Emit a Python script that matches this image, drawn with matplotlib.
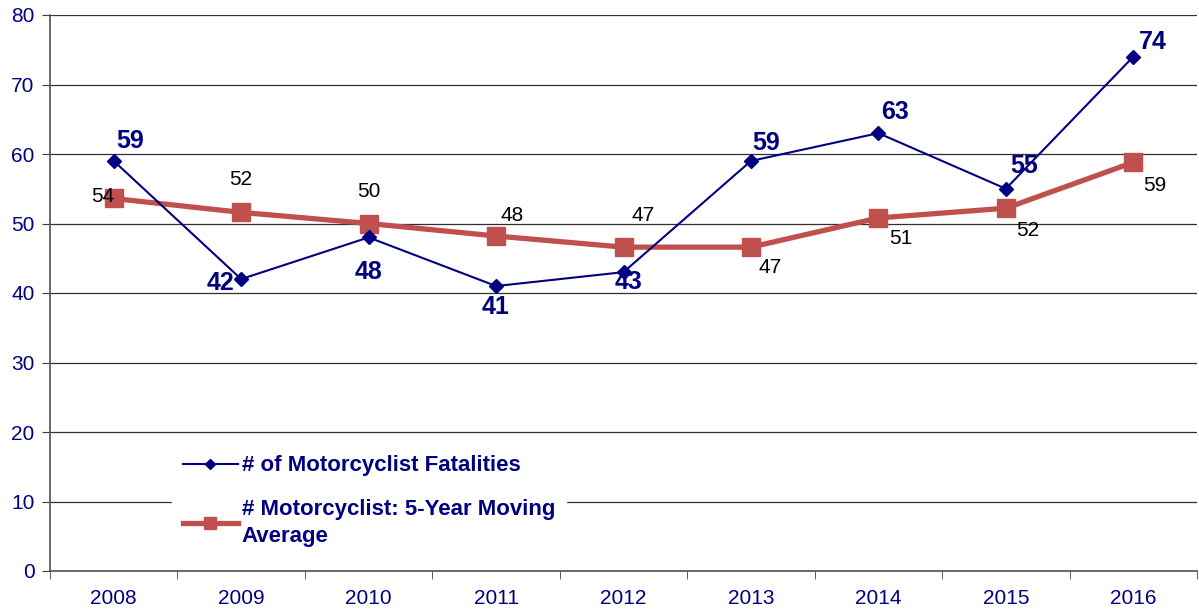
import matplotlib.pyplot as plt
import numpy as np

plt.rcParams['font.family'] = ['Liberation Sans', 'DejaVu Sans']

years = ['2008', '2009', '2010', '2011', '2012', '2013', '2014', '2015', '2016']
fatalities = [59, 42, 48, 41, 43, 59, 63, 55, 74]
moving_avg = [53.6, 51.6, 50.0, 48.2, 46.6, 46.6, 50.8, 52.2, 58.8]
fat_label = '# of Motorcyclist Fatalities'
avg_label = '# Motorcyclist: 5-Year Moving\nAverage'

navy = '#000080'
red = '#C0504D'

# label offsets in pixels (dx, dy), dy positive = up
fat_offsets = [(16, 20), (-21, -4), (0, -35), (0, -21), (5, -10),
               (15, 18), (17, 21), (18, 23), (20, 15)]
avg_offsets = [(-11, 2), (0, 33), (0, 32), (16, 21), (20, 32),
               (19, -20), (22, -21), (22, -22), (22, -23)]

fig = plt.figure(figsize=(11.99, 6.10), dpi=100)
ax = fig.add_axes([50 / 1199, 1 - 571 / 610, 1147 / 1199, 556 / 610])

x = np.arange(len(years))
ax.plot(x, moving_avg, color=red, linewidth=3.8, marker='s', markersize=13,
        label=avg_label, zorder=3)
ax.plot(x, fatalities, color=navy, linewidth=1.5, marker='D', markersize=7.5,
        label=fat_label, zorder=4)

for i, v in enumerate(fatalities):
    dx, dy = fat_offsets[i]
    ax.annotate(str(v), (x[i], v), xytext=(dx * 0.72, dy * 0.72),
                textcoords='offset points', ha='center', va='center',
                fontsize=18, fontweight='bold', color=navy, zorder=5)
for i, v in enumerate(moving_avg):
    dx, dy = avg_offsets[i]
    ax.annotate(str(int(round(v))), (x[i], v), xytext=(dx * 0.72, dy * 0.72),
                textcoords='offset points', ha='center', va='center',
                fontsize=15, color='black', zorder=5)

ax.set_xlim(-0.5, len(years) - 0.5)
ax.set_ylim(0, 80)
ax.set_yticks(range(0, 81, 10))
ax.set_xticks(x)
ax.set_xticklabels(years)
ax.set_xticks(np.arange(-0.5, len(years), 1), minor=True)
ax.tick_params(axis='x', which='major', length=0, pad=13, labelsize=15,
               labelcolor=navy)
ax.tick_params(axis='x', which='minor', length=6, direction='out', color='#404040')
ax.tick_params(axis='y', length=6, direction='out', labelsize=15, pad=5,
               labelcolor=navy, color='#404040')
ax.yaxis.grid(True, color='#303030', linewidth=0.9)
ax.set_axisbelow(True)
for side in ['top', 'right']:
    ax.spines[side].set_visible(False)
for side in ['left', 'bottom']:
    ax.spines[side].set_color('#505050')
    ax.spines[side].set_linewidth(1.2)

handles, labels = ax.get_legend_handles_labels()
leg = ax.legend(handles[::-1], labels[::-1], loc='upper left',
                bbox_to_anchor=(0.106, 0.228), frameon=True, fancybox=False,
                framealpha=1, edgecolor='white', fontsize=16,
                handlelength=2.5, handletextpad=0.15, labelspacing=1.0,
                borderpad=0.5, markerscale=0.7, borderaxespad=0)
for t in leg.get_texts():
    t.set_color(navy)
    t.set_fontweight('bold')
    t.set_linespacing(1.4)

fig.savefig('out.png', dpi=100)
